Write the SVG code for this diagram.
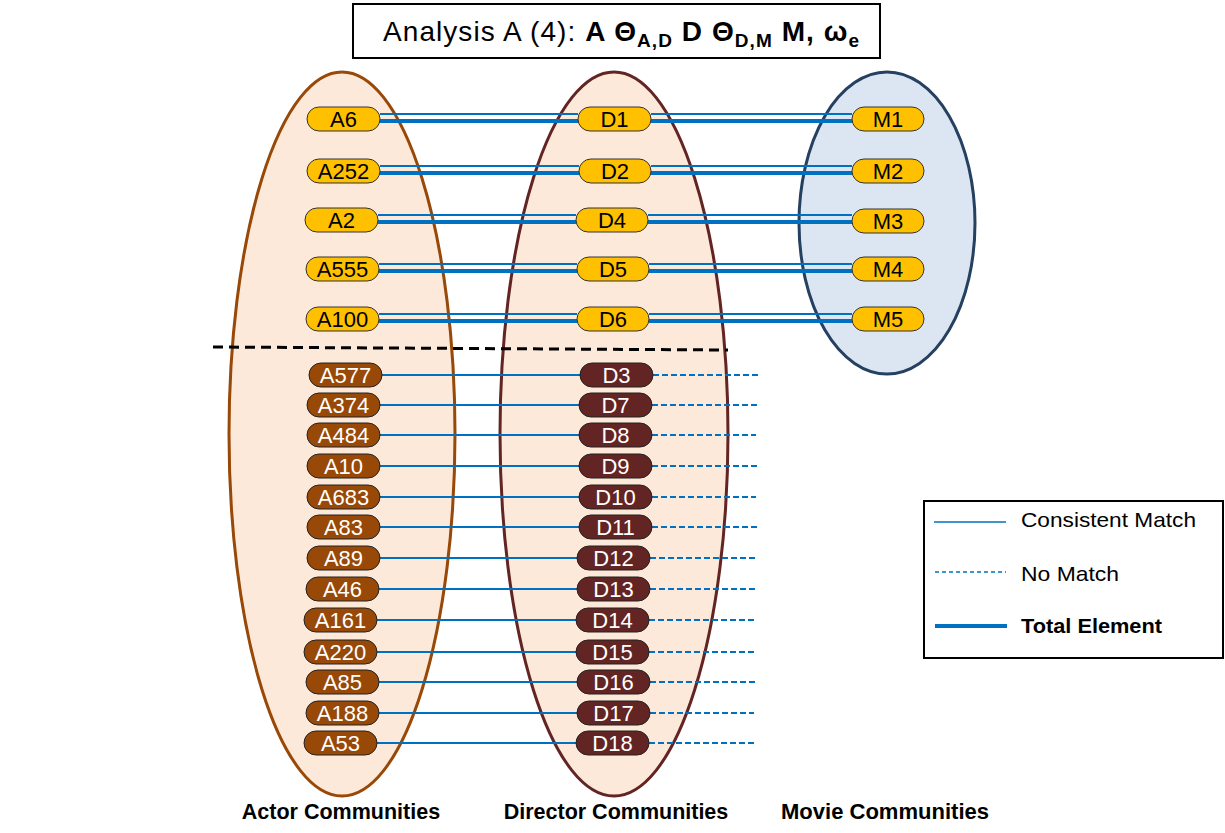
<svg xmlns="http://www.w3.org/2000/svg" width="1225" height="833" viewBox="0 0 1225 833">
<style>
text{font-family:"Liberation Sans",Arial,sans-serif}
.py rect{fill:#FFC000;stroke:#333;stroke-width:1}
.py text{fill:#000;font-size:22px;text-anchor:middle}
.pa rect{fill:#984807;stroke:#222;stroke-width:1}
.pd rect{fill:#632523;stroke:#222;stroke-width:1}
.pa text,.pd text{fill:#fff;font-size:22px;text-anchor:middle}
.thin{stroke:#0070C0;stroke-width:2;fill:none}
.thick{stroke:#0070C0;stroke-width:4;fill:none}
.dash{stroke:#0070C0;stroke-width:2;stroke-dasharray:6 3;fill:none}
.lbl{font-size:21.5px;font-weight:bold;text-anchor:middle}
.leg{font-size:21px}
</style>
<rect width="1225" height="833" fill="#fff"/>
<g id="title">
<rect x="353" y="4" width="527" height="54" fill="#fff" stroke="#000" stroke-width="2"/>
<text x="383" y="41" font-size="28" textLength="476" lengthAdjust="spacing">Analysis A (4): <tspan font-weight="bold">A Θ<tspan font-size="19" dy="6">A,D</tspan><tspan dy="-6"> D Θ</tspan><tspan font-size="19" dy="6">D,M</tspan><tspan dy="-6"> M, ω</tspan><tspan font-size="19" dy="6">e</tspan></tspan></text>
</g>
<g id="actor-communities"><ellipse cx="342" cy="434" rx="113" ry="362" fill="#FDE9D9" stroke="#984807" stroke-width="3"/></g>
<g id="director-communities"><ellipse cx="614" cy="434" rx="114" ry="362" fill="#FDE9D9" stroke="#632523" stroke-width="3"/></g>
<g id="movie-communities"><ellipse cx="887" cy="223" rx="88" ry="151" fill="#DCE6F2" stroke="#254061" stroke-width="3"/></g>
<g id="separator"><line x1="213" y1="347" x2="728" y2="350" stroke="#000" stroke-width="3" stroke-dasharray="10 6"/></g>
<g id="connectors">
<line class="thin" x1="380" y1="114" x2="578" y2="114"/><line class="thick" x1="380" y1="121" x2="578" y2="121"/>
<line class="thin" x1="651" y1="114" x2="852" y2="114"/><line class="thick" x1="651" y1="121" x2="852" y2="121"/>
<line class="thin" x1="380" y1="166" x2="579" y2="166"/><line class="thick" x1="380" y1="173" x2="579" y2="173"/>
<line class="thin" x1="651" y1="166" x2="852" y2="166"/><line class="thick" x1="651" y1="173" x2="852" y2="173"/>
<line class="thin" x1="378" y1="215" x2="576" y2="215"/><line class="thick" x1="378" y1="222" x2="576" y2="222"/>
<line class="thin" x1="648" y1="215" x2="852" y2="215"/><line class="thick" x1="648" y1="222" x2="852" y2="222"/>
<line class="thin" x1="379" y1="264" x2="577" y2="264"/><line class="thick" x1="379" y1="271" x2="577" y2="271"/>
<line class="thin" x1="649" y1="264" x2="852" y2="264"/><line class="thick" x1="649" y1="271" x2="852" y2="271"/>
<line class="thin" x1="379" y1="314" x2="577" y2="314"/><line class="thick" x1="379" y1="321" x2="577" y2="321"/>
<line class="thin" x1="649" y1="314" x2="852" y2="314"/><line class="thick" x1="649" y1="321" x2="852" y2="321"/>
<line class="thin" x1="382" y1="375" x2="580" y2="375"/><line class="dash" x1="653" y1="375" x2="758" y2="375"/>
<line class="thin" x1="380" y1="405" x2="579" y2="405"/><line class="dash" x1="652" y1="405" x2="757" y2="405"/>
<line class="thin" x1="380" y1="435" x2="579" y2="435"/><line class="dash" x1="652" y1="435" x2="756" y2="435"/>
<line class="thin" x1="380" y1="466" x2="579" y2="466"/><line class="dash" x1="652" y1="466" x2="758" y2="466"/>
<line class="thin" x1="380" y1="497" x2="579" y2="497"/><line class="dash" x1="652" y1="497" x2="756" y2="497"/>
<line class="thin" x1="380" y1="527" x2="579" y2="527"/><line class="dash" x1="652" y1="527" x2="759" y2="527"/>
<line class="thin" x1="380" y1="558" x2="577" y2="558"/><line class="dash" x1="650" y1="558" x2="756" y2="558"/>
<line class="thin" x1="379" y1="589" x2="577" y2="589"/><line class="dash" x1="650" y1="589" x2="756" y2="589"/>
<line class="thin" x1="377" y1="620" x2="576" y2="620"/><line class="dash" x1="649" y1="620" x2="754" y2="620"/>
<line class="thin" x1="377" y1="652" x2="576" y2="652"/><line class="dash" x1="649" y1="652" x2="755" y2="652"/>
<line class="thin" x1="379" y1="682" x2="577" y2="682"/><line class="dash" x1="650" y1="682" x2="755" y2="682"/>
<line class="thin" x1="379" y1="713" x2="577" y2="713"/><line class="dash" x1="650" y1="713" x2="754" y2="713"/>
<line class="thin" x1="377" y1="743" x2="576" y2="743"/><line class="dash" x1="649" y1="743" x2="755" y2="743"/>
</g>
<g id="A6" class="py"><rect x="307" y="107" width="73" height="24" rx="12"/><text x="343.5" y="127">A6</text></g>
<g id="A252" class="py"><rect x="307" y="159" width="73" height="24" rx="12"/><text x="343.5" y="179">A252</text></g>
<g id="A2" class="py"><rect x="305" y="208" width="73" height="24" rx="12"/><text x="341.5" y="228">A2</text></g>
<g id="A555" class="py"><rect x="306" y="257" width="73" height="24" rx="12"/><text x="342.5" y="277">A555</text></g>
<g id="A100" class="py"><rect x="306" y="307" width="73" height="24" rx="12"/><text x="342.5" y="327">A100</text></g>
<g id="D1" class="py"><rect x="578" y="107" width="73" height="24" rx="12"/><text x="614.5" y="127">D1</text></g>
<g id="D2" class="py"><rect x="579" y="159" width="72" height="24" rx="12"/><text x="615" y="179">D2</text></g>
<g id="D4" class="py"><rect x="576" y="208" width="72" height="24" rx="12"/><text x="612" y="228">D4</text></g>
<g id="D5" class="py"><rect x="577" y="257" width="72" height="24" rx="12"/><text x="613" y="277">D5</text></g>
<g id="D6" class="py"><rect x="577" y="307" width="72" height="24" rx="12"/><text x="613" y="327">D6</text></g>
<g id="M1" class="py"><rect x="852" y="107" width="72" height="24" rx="12"/><text x="888" y="127">M1</text></g>
<g id="M2" class="py"><rect x="852" y="159" width="72" height="24" rx="12"/><text x="888" y="179">M2</text></g>
<g id="M3" class="py"><rect x="852" y="209" width="72" height="24" rx="12"/><text x="888" y="229">M3</text></g>
<g id="M4" class="py"><rect x="852" y="257" width="72" height="24" rx="12"/><text x="888" y="277">M4</text></g>
<g id="M5" class="py"><rect x="852" y="307" width="72" height="24" rx="12"/><text x="888" y="327">M5</text></g>
<g id="A577" class="pa"><rect x="309" y="363" width="73" height="24" rx="12"/><text x="345.5" y="383">A577</text></g>
<g id="A374" class="pa"><rect x="307" y="393" width="73" height="24" rx="12"/><text x="343.5" y="413">A374</text></g>
<g id="A484" class="pa"><rect x="307" y="423" width="73" height="24" rx="12"/><text x="343.5" y="443">A484</text></g>
<g id="A10" class="pa"><rect x="307" y="454" width="73" height="24" rx="12"/><text x="343.5" y="474">A10</text></g>
<g id="A683" class="pa"><rect x="307" y="485" width="73" height="24" rx="12"/><text x="343.5" y="505">A683</text></g>
<g id="A83" class="pa"><rect x="307" y="515" width="73" height="24" rx="12"/><text x="343.5" y="535">A83</text></g>
<g id="A89" class="pa"><rect x="307" y="546" width="73" height="24" rx="12"/><text x="343.5" y="566">A89</text></g>
<g id="A46" class="pa"><rect x="306" y="577" width="73" height="24" rx="12"/><text x="342.5" y="597">A46</text></g>
<g id="A161" class="pa"><rect x="304" y="608" width="73" height="24" rx="12"/><text x="340.5" y="628">A161</text></g>
<g id="A220" class="pa"><rect x="304" y="640" width="73" height="24" rx="12"/><text x="340.5" y="660">A220</text></g>
<g id="A85" class="pa"><rect x="306" y="670" width="73" height="24" rx="12"/><text x="342.5" y="690">A85</text></g>
<g id="A188" class="pa"><rect x="306" y="701" width="73" height="24" rx="12"/><text x="342.5" y="721">A188</text></g>
<g id="A53" class="pa"><rect x="304" y="731" width="73" height="24" rx="12"/><text x="340.5" y="751">A53</text></g>
<g id="D3" class="pd"><rect x="580" y="363" width="73" height="24" rx="12"/><text x="616.5" y="383">D3</text></g>
<g id="D7" class="pd"><rect x="579" y="393" width="73" height="24" rx="12"/><text x="615.5" y="413">D7</text></g>
<g id="D8" class="pd"><rect x="579" y="423" width="73" height="24" rx="12"/><text x="615.5" y="443">D8</text></g>
<g id="D9" class="pd"><rect x="579" y="454" width="73" height="24" rx="12"/><text x="615.5" y="474">D9</text></g>
<g id="D10" class="pd"><rect x="579" y="485" width="73" height="24" rx="12"/><text x="615.5" y="505">D10</text></g>
<g id="D11" class="pd"><rect x="579" y="515" width="73" height="24" rx="12"/><text x="615.5" y="535">D11</text></g>
<g id="D12" class="pd"><rect x="577" y="546" width="73" height="24" rx="12"/><text x="613.5" y="566">D12</text></g>
<g id="D13" class="pd"><rect x="577" y="577" width="73" height="24" rx="12"/><text x="613.5" y="597">D13</text></g>
<g id="D14" class="pd"><rect x="576" y="608" width="73" height="24" rx="12"/><text x="612.5" y="628">D14</text></g>
<g id="D15" class="pd"><rect x="576" y="640" width="73" height="24" rx="12"/><text x="612.5" y="660">D15</text></g>
<g id="D16" class="pd"><rect x="577" y="670" width="73" height="24" rx="12"/><text x="613.5" y="690">D16</text></g>
<g id="D17" class="pd"><rect x="577" y="701" width="73" height="24" rx="12"/><text x="613.5" y="721">D17</text></g>
<g id="D18" class="pd"><rect x="576" y="731" width="73" height="24" rx="12"/><text x="612.5" y="751">D18</text></g>
<g id="labels">
<text class="lbl" x="341" y="819">Actor Communities</text>
<text class="lbl" x="616" y="819">Director Communities</text>
<text class="lbl" x="885" y="819" textLength="208" lengthAdjust="spacingAndGlyphs">Movie Communities</text>
</g>
<g id="legend">
<rect x="924" y="501" width="299" height="157" fill="#fff" stroke="#000" stroke-width="2"/>
<line x1="934" y1="522" x2="1006" y2="522" stroke="#0070C0" stroke-width="1.5"/>
<line x1="935" y1="572" x2="1006" y2="572" stroke="#0070C0" stroke-width="1.5" stroke-dasharray="4 3"/>
<line x1="935" y1="626" x2="1007" y2="626" stroke="#0070C0" stroke-width="4"/>
<text class="leg" x="1021" y="527" textLength="175" lengthAdjust="spacingAndGlyphs">Consistent Match</text>
<text class="leg" x="1021" y="581" textLength="98" lengthAdjust="spacingAndGlyphs">No Match</text>
<text class="leg" x="1021" y="633" font-weight="bold" textLength="141" lengthAdjust="spacingAndGlyphs">Total Element</text>
</g>
</svg>
